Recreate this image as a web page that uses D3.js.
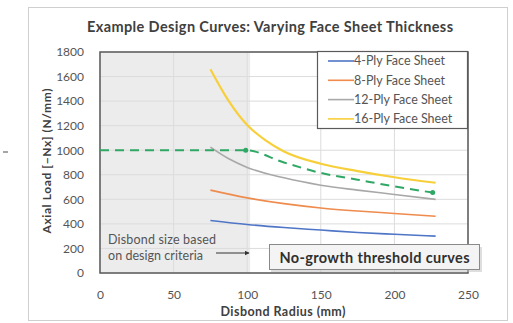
<!DOCTYPE html>
<html>
<head>
<meta charset="utf-8">
<script src="https://cdn.jsdelivr.net/npm/d3@7"></script>
<style>
  body { margin: 0; background: #fff; }
  text { font-family: Lato, "Open Sans", sans-serif; fill: #404040; }
</style>
</head>
<body>
<script>
//chart values
var xTicks = [0, 50, 100, 150, 200, 250];
var yTicks = [0, 200, 400, 600, 800, 1000, 1200, 1400, 1600, 1800];

var seriesNames = ["4-Ply Face Sheet", "8-Ply Face Sheet", "12-Ply Face Sheet", "16-Ply Face Sheet"];
var seriesColors = ["#4f75c6", "#ee8b4d", "#a8a8a8", "#f7cf3a"];

var ply4 = [[75, 428], [100, 395], [125, 370], [150, 350], [175, 330], [200, 315], [228, 300]];
var ply8 = [[75, 675], [100, 612], [125, 565], [150, 530], [175, 505], [200, 485], [228, 462]];
var ply12 = [[75, 1025], [87.5, 930], [100, 860], [125, 775], [150, 715], [175, 675], [200, 640], [228, 600]];
var ply16 = [[75, 1660], [87.5, 1400], [100, 1205], [112.5, 1080], [125, 990], [150, 890], [175, 830], [200, 780], [228, 735]];

//design curve (green dashed)
var designCurve = [[0, 1000], [99, 1000], [125, 900], [150, 815], [175, 760], [200, 705], [226, 655]];
var designMarkers = [[99, 1000], [226, 655]];

var shadedLimit = 102;

var width = 513, height = 323;
var svg = d3.select("body").append("svg")
    .attr("width", width)
    .attr("height", height);

//outer chart frame
svg.append("rect")
    .attr("x", 28.5).attr("y", 7.5)
    .attr("width", 479).attr("height", 313)
    .attr("fill", "#fff")
    .attr("stroke", "#cfcfcf");

svg.append("line")
    .attr("x1", 3).attr("x2", 8).attr("y1", 152).attr("y2", 152)
    .attr("stroke", "#888").attr("stroke-width", 1.5);

var plot = {left: 100, right: 468, top: 52, bottom: 273};

var x = d3.scaleLinear().domain([0, 250]).range([plot.left, plot.right]);
var y = d3.scaleLinear().domain([0, 1800]).range([plot.bottom, plot.top]);

//shaded region
svg.append("rect")
    .attr("x", x(0)).attr("y", y(1800))
    .attr("width", x(shadedLimit) - x(0))
    .attr("height", y(0) - y(1800))
    .attr("fill", "#ececec");

//grid lines
svg.append("g").selectAll("line.h")
    .data(yTicks).enter().append("line")
    .attr("x1", x(0)).attr("x2", x(250))
    .attr("y1", function(d){ return y(d); })
    .attr("y2", function(d){ return y(d); })
    .attr("stroke", "#dcdcdc").attr("stroke-width", 1);

svg.append("g").selectAll("line.v")
    .data(xTicks).enter().append("line")
    .attr("x1", function(d){ return x(d); })
    .attr("x2", function(d){ return x(d); })
    .attr("y1", y(0)).attr("y2", y(1800))
    .attr("stroke", "#dcdcdc").attr("stroke-width", 1);

//axes (labels only)
var xAxis = svg.append("g")
    .attr("transform", "translate(0," + (plot.bottom + 19) + ")")
    .call(d3.axisBottom(x).tickValues(xTicks).tickSize(0).tickFormat(d3.format("d")));
xAxis.select(".domain").remove();
xAxis.selectAll("text").attr("font-size", 12).attr("dy", "0.35em").style("fill", "#555");

var yAxis = svg.append("g")
    .attr("transform", "translate(" + (plot.left - 13) + ",0)")
    .call(d3.axisLeft(y).tickValues(yTicks).tickSize(0).tickFormat(d3.format("d")));
yAxis.select(".domain").remove();
yAxis.selectAll("text").attr("font-size", 12).style("fill", "#555");
svg.selectAll(".tick text").attr("font-family", "Lato, sans-serif");

//plot border
svg.append("rect")
    .attr("x", plot.left).attr("y", plot.top)
    .attr("width", plot.right - plot.left)
    .attr("height", plot.bottom - plot.top)
    .attr("fill", "none")
    .attr("stroke", "#5a5a5a").attr("stroke-width", 1.5);

//curves
var line = d3.line()
    .x(function(d){ return x(d[0]); })
    .y(function(d){ return y(d[1]); })
    .curve(d3.curveMonotoneX);

var allSeries = [ply4, ply8, ply12, ply16];
svg.append("g").selectAll("path")
    .data(allSeries).enter().append("path")
    .attr("d", line)
    .attr("fill", "none")
    .attr("stroke", function(d, i){ return seriesColors[i]; })
    .attr("stroke-width", function(d, i){ return i == 3 ? 2.2 : 1.6; });

svg.append("path")
    .datum(designCurve)
    .attr("d", line)
    .attr("fill", "none")
    .attr("stroke", "#2fa866")
    .attr("stroke-width", 2)
    .attr("stroke-dasharray", "9,6");

svg.selectAll("circle.m")
    .data(designMarkers).enter().append("circle")
    .attr("cx", function(d){ return x(d[0]); })
    .attr("cy", function(d){ return y(d[1]); })
    .attr("r", 2.5)
    .attr("fill", "#2fa866");

//legend
var legend = svg.append("g");
legend.append("rect")
    .attr("x", 317.5).attr("y", 51.5)
    .attr("width", 150).attr("height", 77)
    .attr("fill", "#fff")
    .attr("stroke", "#5a5a5a").attr("stroke-width", 1.2);

seriesNames.forEach(function(name, i){
    var ly = 61 + i * 19.3;
    legend.append("line")
        .attr("x1", 328).attr("x2", 354)
        .attr("y1", ly).attr("y2", ly)
        .attr("stroke", seriesColors[i]).attr("stroke-width", 1.6);
    legend.append("text")
        .attr("x", 354).attr("y", ly)
        .attr("dy", "0.35em")
        .attr("font-size", 12.5)
        .style("fill", "#555")
        .text(name);
});

//annotation box
svg.append("rect")
    .attr("x", 271).attr("y", 247)
    .attr("width", 211).attr("height", 25)
    .attr("fill", "#bdbdbd").attr("opacity", 0.5);
svg.append("rect")
    .attr("x", 269.5).attr("y", 244.5)
    .attr("width", 210).attr("height", 25)
    .attr("fill", "#f4f4f4")
    .attr("stroke", "#8a8a8a");
svg.append("text")
    .attr("x", 374.5).attr("y", 257.5)
    .attr("dy", "0.35em")
    .attr("text-anchor", "middle")
    .attr("font-size", 14.5)
    .attr("font-weight", "bold")
    .attr("textLength", 190)
    .style("fill", "#303030")
    .text("No-growth threshold curves");

//left annotation
svg.append("text")
    .attr("x", 108).attr("y", 240)
    .attr("dy", "0.35em")
    .attr("font-size", 12.5)
    .attr("textLength", 108)
    .style("fill", "#555")
    .text("Disbond size based");
svg.append("text")
    .attr("x", 108).attr("y", 255.5)
    .attr("dy", "0.35em")
    .attr("font-size", 12.5)
    .attr("textLength", 95)
    .style("fill", "#555")
    .text("on design criteria");

svg.append("defs").append("marker")
    .attr("id", "arrow")
    .attr("viewBox", "0 0 10 10")
    .attr("refX", 9).attr("refY", 5)
    .attr("markerWidth", 5).attr("markerHeight", 5)
    .attr("orient", "auto")
    .append("path")
    .attr("d", "M0,0L10,5L0,10z")
    .attr("fill", "#333");

svg.append("line")
    .attr("x1", 216).attr("x2", 249)
    .attr("y1", 253).attr("y2", 253)
    .attr("stroke", "#333").attr("stroke-width", 1)
    .attr("marker-end", "url(#arrow)");

//title and axis titles
svg.append("text")
    .attr("x", 270).attr("y", 27)
    .attr("text-anchor", "middle")
    .attr("dy", "0.35em")
    .attr("font-size", 14.5)
    .attr("font-weight", "bold")
    .attr("textLength", 366)
    .style("fill", "#404040")
    .text("Example Design Curves: Varying Face Sheet Thickness");

svg.append("text")
    .attr("transform", "translate(47,161) rotate(-90)")
    .attr("text-anchor", "middle")
    .attr("dy", "0.35em")
    .attr("font-size", 12)
    .attr("font-weight", "bold")
    .attr("textLength", 145)
    .style("fill", "#404040")
    .text("Axial Load [\u2212Nx] (N/mm)");

svg.append("text")
    .attr("x", 283).attr("y", 312)
    .attr("text-anchor", "middle")
    .attr("dy", "0.35em")
    .attr("font-size", 12.5)
    .attr("font-weight", "bold")
    .attr("textLength", 125)
    .style("fill", "#404040")
    .text("Disbond Radius (mm)");
</script>
</body>
</html>
